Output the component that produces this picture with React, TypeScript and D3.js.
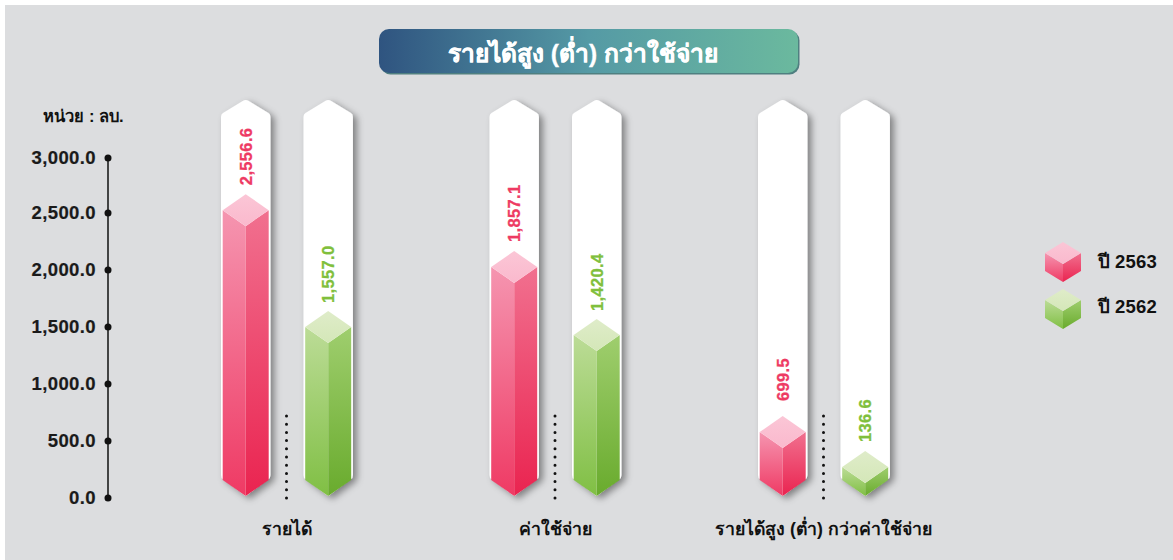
import React from "react";
import * as d3 from "d3";

const W = 1173, H = 560;
const titleText = "รายได้สูง (ต่ำ) กว่าใช้จ่าย";
const unitText = "หน่วย : ลบ.";
const categories = ["รายได้", "ค่าใช้จ่าย", "รายได้สูง (ต่ำ) กว่าค่าใช้จ่าย"];
const seriesNames = ["ปี 2563", "ปี 2562"];
const values2563 = [2556.6, 1857.1, 699.5];
const values2562 = [1557.0, 1420.4, 136.6];
// Level at which the box top is actually drawn, read against the axis (the picture is not to scale).
const drawn2563 = [2526, 2026, 579];
const drawn2562 = [1500, 1430, 272];
const ticks = [0, 500, 1000, 1500, 2000, 2500, 3000];

const y = d3.scaleLinear().domain([0, 2500, 3000]).range([498, 213, 158]);
const groupX = d3.scaleLinear().domain([0, 2]).range([286.5, 823.5]);
const fmt = d3.format(",.1f");

const FONT = "'Liberation Sans', 'Noto Sans', sans-serif";
const HW = 23; // half box width
const DY = 16; // isometric drop
const BASE = y(0) - 18; // side bottom
const gapPink = [9, 9, 15]; // label gap above the box
const gapGreen = [8, 8, 9];

function poly(p: [number, number][]) {
  return "M" + p.map((a) => a.join(",")).join("L") + "Z";
}

function Cube({ cx, mid, base, hw, dy, ids }: any) {
  const tip = base + dy;
  return (
    <g>
      <path d={poly([[cx - hw, mid], [cx, mid + dy], [cx, tip], [cx - hw, base]])} fill={`url(#${ids}L)`} />
      <path d={poly([[cx + hw, mid], [cx, mid + dy], [cx, tip], [cx + hw, base]])} fill={`url(#${ids}R)`} />
      <path d={poly([[cx - hw, mid], [cx, mid - dy], [cx + hw, mid], [cx, mid + dy]])} fill={`url(#${ids}T)`} />
    </g>
  );
}

function Column({ cx, value, level, ids, color, gap }: any) {
  const hw = 24.7;
  const top = 100, shoulder = 115, bottom = 478, tip = y(0) - 2;
  const d = `M${cx},${top} Q${cx + 1.5},${top} ${cx + 3},${top + 1} L${cx + hw - 2},${shoulder - 2} Q${cx + hw},${shoulder - 1} ${cx + hw},${shoulder + 2}
    L${cx + hw},${bottom - 3} Q${cx + hw},${bottom} ${cx + hw - 2},${bottom + 1} L${cx},${tip} L${cx - hw + 2},${bottom + 1} Q${cx - hw},${bottom} ${cx - hw},${bottom - 3}
    L${cx - hw},${shoulder + 2} Q${cx - hw},${shoulder - 1} ${cx - hw + 2},${shoulder - 2} L${cx - 3},${top + 1} Q${cx - 1.5},${top} ${cx},${top} Z`;
  const mid = y(level);
  const labelY = mid - DY - gap;
  return (
    <g>
      <path d={d} fill="#fff" filter="url(#shadow)" />
      <Cube cx={cx} mid={mid} base={BASE} hw={HW} dy={DY} ids={ids} />
      <text
        transform={`translate(${cx + 6},${labelY}) rotate(-90)`}
        fontFamily={FONT}
        fontWeight={700}
        fontSize={16.5}
        letterSpacing={0.35}
        fill={color}
        stroke={color}
        strokeWidth={0.3}
      >
        {fmt(value)}
      </text>
    </g>
  );
}

function Grad({ id, c0, c1 }: any) {
  return (
    <linearGradient id={id} x1="0" y1="0" x2="0" y2="1">
      <stop offset="0" stopColor={c0} />
      <stop offset="1" stopColor={c1} />
    </linearGradient>
  );
}

export default function App() {
  return (
    <svg width={W} height={H} viewBox={`0 0 ${W} ${H}`} style={{ position: "absolute", left: 0, top: 0, background: "#fff" }}>
      <defs>
        <Grad id="pL" c0="#f595b0" c1="#ef3a64" />
        <Grad id="pR" c0="#f1708f" c1="#ea2450" />
        <Grad id="pT" c0="#fbc6d6" c1="#fab9cd" />
        <Grad id="gL" c0="#bcdc97" c1="#80bf44" />
        <Grad id="gR" c0="#9fce6e" c1="#69ab2d" />
        <Grad id="gT" c0="#dfecc9" c1="#d4e7b8" />
        <linearGradient id="title" x1="0" y1="0" x2="1" y2="0">
          <stop offset="0" stopColor="#2f5480" />
          <stop offset="0.5" stopColor="#559aa5" />
          <stop offset="1" stopColor="#6bb99e" />
        </linearGradient>
        <filter id="shadow" x="-30%" y="-5%" width="170%" height="112%">
          <feDropShadow dx="4" dy="3" stdDeviation="3.5" floodColor="#000" floodOpacity="0.42" />
        </filter>
      </defs>
      <rect x={5} y={5} width={1168} height={555} fill="#dcdddf" />

      <rect x={380.5} y={30.5} width={419} height={44} rx={10} fill="#4f7f80" />
      <rect x={379} y={29} width={419} height={44} rx={10} fill="url(#title)" />
      <text x={583} y={62} textAnchor="middle" fontFamily={FONT} fontWeight={700} fontSize={24.5} fill="#fff" stroke="#fff" strokeWidth={0.3}>
        {titleText}
      </text>

      <text x={83.5} y={122} textAnchor="middle" fontFamily={FONT} fontWeight={700} fontSize={16.5} fill="#111">
        {unitText}
      </text>
      <line x1={108} x2={108} y1={y(3000)} y2={y(0)} stroke="#111" strokeWidth={1.5} />
      {ticks.map((t) => (
        <g key={t}>
          <circle cx={108} cy={y(t)} r={3.5} fill="#111" />
          <text x={96} y={y(t) + 6.3} textAnchor="end" fontFamily={FONT} fontWeight={700} fontSize={18.5} letterSpacing={0.4} fill="#1a1a1a" stroke="#1a1a1a" strokeWidth={0.2}>
            {fmt(t)}
          </text>
        </g>
      ))}

      {categories.map((c, i) => {
        const gx = groupX(i);
        return (
          <g key={c}>
            <Column cx={gx - 40.8} value={values2563[i]} level={drawn2563[i]} ids="p" color="#ee3a63" gap={gapPink[i]} />
            <Column cx={gx + 41.7} value={values2562[i]} level={drawn2562[i]} ids="g" color="#80bf3c" gap={gapGreen[i]} />
            <line x1={gx} x2={gx} y1={416} y2={499} stroke="#111" strokeWidth={3} strokeLinecap="round" strokeDasharray="0 8.2" />
            <text x={gx} y={534.5} textAnchor="middle" fontFamily={FONT} fontWeight={700} fontSize={17.7} fill="#111">
              {c}
            </text>
          </g>
        );
      })}

      {seriesNames.map((s, i) => (
        <g key={s}>
          <Cube cx={1063} mid={[253, 300][i]} base={[271, 318][i]} hw={18} dy={11} ids={i ? "g" : "p"} />
          <text x={1097.5} y={[268, 313][i]} fontFamily={FONT} fontWeight={700} fontSize={18.5} letterSpacing={0.2} fill="#111">
            {s}
          </text>
        </g>
      ))}
    </svg>
  );
}
